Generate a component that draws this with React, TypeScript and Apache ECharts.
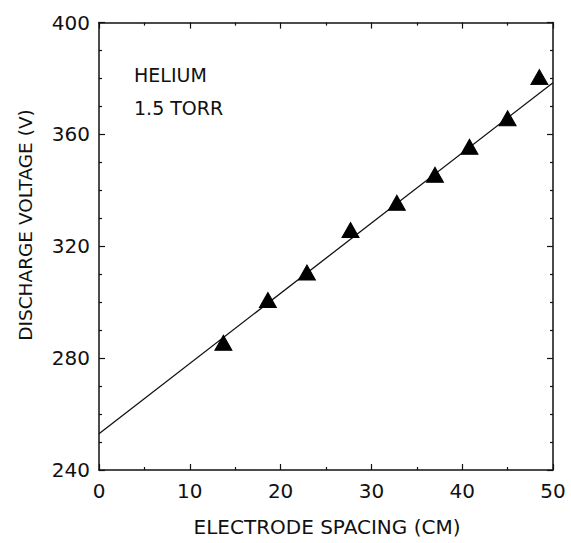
import React, { useEffect, useRef } from "react";
import * as echarts from "echarts";

// Electrode spacing (cm) and measured discharge voltage (V)
const spacing = [13.7, 18.6, 22.9, 27.7, 32.8, 37.0, 40.8, 45.0, 48.5];
const voltage = [285.5, 300.8, 310.6, 325.8, 335.6, 345.6, 355.6, 365.8, 380.5];

// Straight-line fit through the measurements
const fitX = [0, 50];
const fitY = [253, 378.5];

const xTicks = [0, 10, 20, 30, 40, 50];
const yTicks = [240, 280, 320, 360, 400];

const FONT = "DejaVu Sans";
const INK = "#111";

export default function App() {
  const ref = useRef<HTMLDivElement>(null);

  useEffect(() => {
    if (!ref.current) return;
    const chart = echarts.init(ref.current, undefined, { renderer: "svg" });

    const axisLine = { show: true, onZero: false, lineStyle: { color: INK, width: 1.5 } };
    const tickStyle = { color: INK, width: 1.2 };

    const baseX = {
      type: "value" as const,
      min: 0,
      max: 50,
      interval: 10,
      axisLine,
      splitLine: { show: false },
      axisTick: { show: true, inside: true, length: 6, lineStyle: tickStyle },
      minorTick: { show: true, splitNumber: 2, length: 3, lineStyle: tickStyle },
    };
    const baseY = {
      type: "value" as const,
      min: 240,
      max: 400,
      interval: 40,
      axisLine,
      splitLine: { show: false },
      axisTick: { show: true, inside: true, length: 6, lineStyle: tickStyle },
      minorTick: { show: true, splitNumber: 4, length: 3, lineStyle: tickStyle },
    };

    chart.setOption({
      animation: false,
      backgroundColor: "#fff",
      aria: { enabled: true, decal: { show: true } },
      grid: { left: 99, right: 18, top: 22.6, bottom: 73, containLabel: false },
      xAxis: [
        {
          ...baseX,
          position: "bottom",
          axisLabel: {
            show: true,
            margin: 11,
            color: INK,
            fontFamily: FONT,
            fontSize: 20,
            formatter: (v: number) => (xTicks.includes(v) ? String(v) : ""),
          },
        },
        { ...baseX, position: "top", axisLabel: { show: false } },
      ],
      yAxis: [
        {
          ...baseY,
          position: "left",
          axisLabel: {
            show: true,
            margin: 9,
            color: INK,
            fontFamily: FONT,
            fontSize: 20,
            formatter: (v: number) => (yTicks.includes(v) ? String(v) : ""),
          },
        },
        { ...baseY, position: "right", axisLabel: { show: false } },
      ],
      graphic: [
        {
          type: "text",
          left: 134,
          top: 65,
          style: { text: "HELIUM", fill: INK, font: `19px "${FONT}"` },
        },
        {
          type: "text",
          left: 134,
          top: 98,
          style: { text: "1.5 TORR", fill: INK, font: `19px "${FONT}"` },
        },
        {
          type: "text",
          x: 327,
          y: 527,
          style: {
            text: "ELECTRODE SPACING (CM)",
            fill: INK,
            font: `20px "${FONT}"`,
            align: "center",
            verticalAlign: "middle",
          },
        },
        {
          type: "text",
          x: 25,
          y: 225,
          rotation: Math.PI / 2,
          style: {
            text: "DISCHARGE VOLTAGE (V)",
            fill: INK,
            font: `18.5px "${FONT}"`,
            align: "center",
            verticalAlign: "middle",
          },
        },
      ],
      series: [
        {
          type: "line",
          data: fitX.map((x, i) => [x, fitY[i]]),
          showSymbol: false,
          symbol: "none",
          lineStyle: { color: INK, width: 1.3 },
          silent: true,
          z: 2,
        },
        {
          type: "scatter",
          data: spacing.map((x, i) => [x, voltage[i]]),
          symbol: "triangle",
          symbolSize: [17, 15],
          itemStyle: {
            color: "#000",
            borderColor: "#000",
            borderWidth: 1,
            opacity: 1,
            // stippled fill: light dots on the dark triangle
            decal: {
              symbol: "rect",
              symbolSize: 0.5,
              color: "rgba(230,230,230,0.9)",
              dashArrayX: [3, 0],
              dashArrayY: [3, 0],
              rotation: 0,
            },
          },
          z: 3,
        },
      ],
    });

    return () => chart.dispose();
  }, []);

  return (
    <div
      ref={ref}
      style={{ position: "fixed", left: 0, top: 0, width: 571, height: 543, background: "#fff" }}
    />
  );
}
